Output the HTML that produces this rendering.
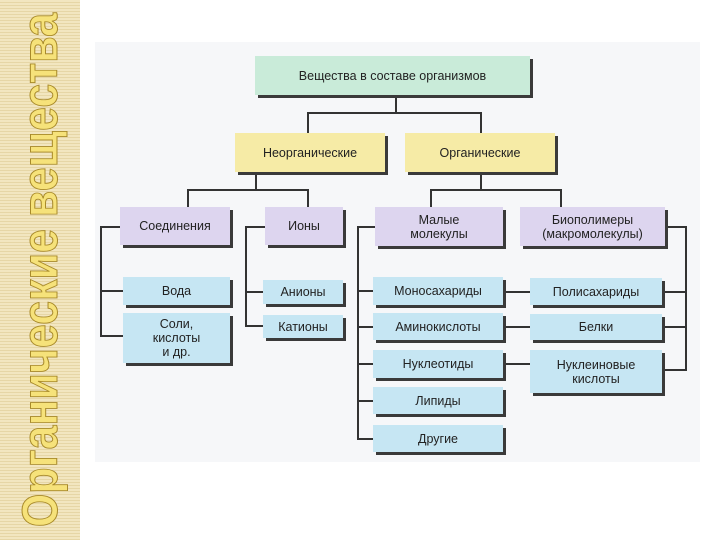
<!DOCTYPE html>
<html><head><meta charset="utf-8"><style>
body{margin:0;width:720px;height:540px;background:#fff;position:relative;overflow:hidden;font-family:"Liberation Sans",sans-serif}
.strip{position:absolute;left:0;top:0;width:80px;height:540px;background:repeating-linear-gradient(180deg,#f2e6c0 0 2px,#e6d6a6 2px 3px)}
.title{position:absolute;left:40px;top:270px;transform:translate(-50%,-50%) rotate(-90deg) scaleX(0.86);white-space:nowrap;font-size:50px;font-weight:bold;color:#f6e27a;-webkit-text-stroke:1px #a88a2a;letter-spacing:0}
.bg{position:absolute;left:95px;top:42px;width:605px;height:420px;background:#f6f7f9}
.b{position:absolute;box-sizing:border-box;display:flex;align-items:center;justify-content:center;text-align:center;font-size:12.5px;line-height:14px;color:#222;box-shadow:3px 3px 0 #3a3a3a}
.g{background:#c9ebd9}.y{background:#f6eba6}.p{background:#ddd5ef}.c{background:#c6e6f3}
.l{position:absolute;background:#333}
</style></head><body>
<div class="strip"></div>
<div class="title">Органические вещества</div>
<div class="bg"></div>
<div class="l" style="left:395px;top:95px;width:2px;height:18px"></div>
<div class="l" style="left:307px;top:112px;width:175px;height:2px"></div>
<div class="l" style="left:307px;top:112px;width:2px;height:22px"></div>
<div class="l" style="left:480px;top:112px;width:2px;height:22px"></div>
<div class="l" style="left:255px;top:172px;width:2px;height:18px"></div>
<div class="l" style="left:187px;top:189px;width:122px;height:2px"></div>
<div class="l" style="left:187px;top:189px;width:2px;height:18px"></div>
<div class="l" style="left:307px;top:189px;width:2px;height:18px"></div>
<div class="l" style="left:480px;top:172px;width:2px;height:18px"></div>
<div class="l" style="left:430px;top:189px;width:132px;height:2px"></div>
<div class="l" style="left:430px;top:189px;width:2px;height:18px"></div>
<div class="l" style="left:560px;top:189px;width:2px;height:18px"></div>
<div class="l" style="left:100px;top:226px;width:20px;height:2px"></div>
<div class="l" style="left:100px;top:226px;width:2px;height:111px"></div>
<div class="l" style="left:100px;top:290px;width:23px;height:2px"></div>
<div class="l" style="left:100px;top:335px;width:23px;height:2px"></div>
<div class="l" style="left:245px;top:226px;width:20px;height:2px"></div>
<div class="l" style="left:245px;top:226px;width:2px;height:101px"></div>
<div class="l" style="left:245px;top:291px;width:18px;height:2px"></div>
<div class="l" style="left:245px;top:325px;width:18px;height:2px"></div>
<div class="l" style="left:357px;top:226px;width:18px;height:2px"></div>
<div class="l" style="left:357px;top:226px;width:2px;height:214px"></div>
<div class="l" style="left:357px;top:290px;width:16px;height:2px"></div>
<div class="l" style="left:357px;top:326px;width:16px;height:2px"></div>
<div class="l" style="left:357px;top:363px;width:16px;height:2px"></div>
<div class="l" style="left:357px;top:400px;width:16px;height:2px"></div>
<div class="l" style="left:357px;top:438px;width:16px;height:2px"></div>
<div class="l" style="left:665px;top:226px;width:22px;height:2px"></div>
<div class="l" style="left:685px;top:226px;width:2px;height:145px"></div>
<div class="l" style="left:662px;top:291px;width:24px;height:2px"></div>
<div class="l" style="left:662px;top:326px;width:24px;height:2px"></div>
<div class="l" style="left:662px;top:369px;width:24px;height:2px"></div>
<div class="l" style="left:503px;top:291px;width:27px;height:2px"></div>
<div class="l" style="left:503px;top:326px;width:27px;height:2px"></div>
<div class="l" style="left:503px;top:363px;width:27px;height:2px"></div>
<div class="b g" style="left:255px;top:56px;width:275px;height:39px">Вещества в составе организмов</div>
<div class="b y" style="left:235px;top:133px;width:150px;height:39px">Неорганические</div>
<div class="b y" style="left:405px;top:133px;width:150px;height:39px">Органические</div>
<div class="b p" style="left:120px;top:207px;width:110px;height:38px">Соединения</div>
<div class="b p" style="left:265px;top:207px;width:78px;height:38px">Ионы</div>
<div class="b p" style="left:375px;top:207px;width:128px;height:39px">Малые<br>молекулы</div>
<div class="b p" style="left:520px;top:207px;width:145px;height:39px">Биополимеры<br>(макромолекулы)</div>
<div class="b c" style="left:123px;top:277px;width:107px;height:28px">Вода</div>
<div class="b c" style="left:123px;top:313px;width:107px;height:50px">Соли,<br>кислоты<br>и др.</div>
<div class="b c" style="left:263px;top:280px;width:80px;height:24px">Анионы</div>
<div class="b c" style="left:263px;top:315px;width:80px;height:23px">Катионы</div>
<div class="b c" style="left:373px;top:277px;width:130px;height:28px">Моносахариды</div>
<div class="b c" style="left:373px;top:313px;width:130px;height:27px">Аминокислоты</div>
<div class="b c" style="left:373px;top:350px;width:130px;height:28px">Нуклеотиды</div>
<div class="b c" style="left:373px;top:387px;width:130px;height:27px">Липиды</div>
<div class="b c" style="left:373px;top:425px;width:130px;height:27px">Другие</div>
<div class="b c" style="left:530px;top:278px;width:132px;height:27px">Полисахариды</div>
<div class="b c" style="left:530px;top:314px;width:132px;height:26px">Белки</div>
<div class="b c" style="left:530px;top:350px;width:132px;height:43px">Нуклеиновые<br>кислоты</div>
</body></html>
